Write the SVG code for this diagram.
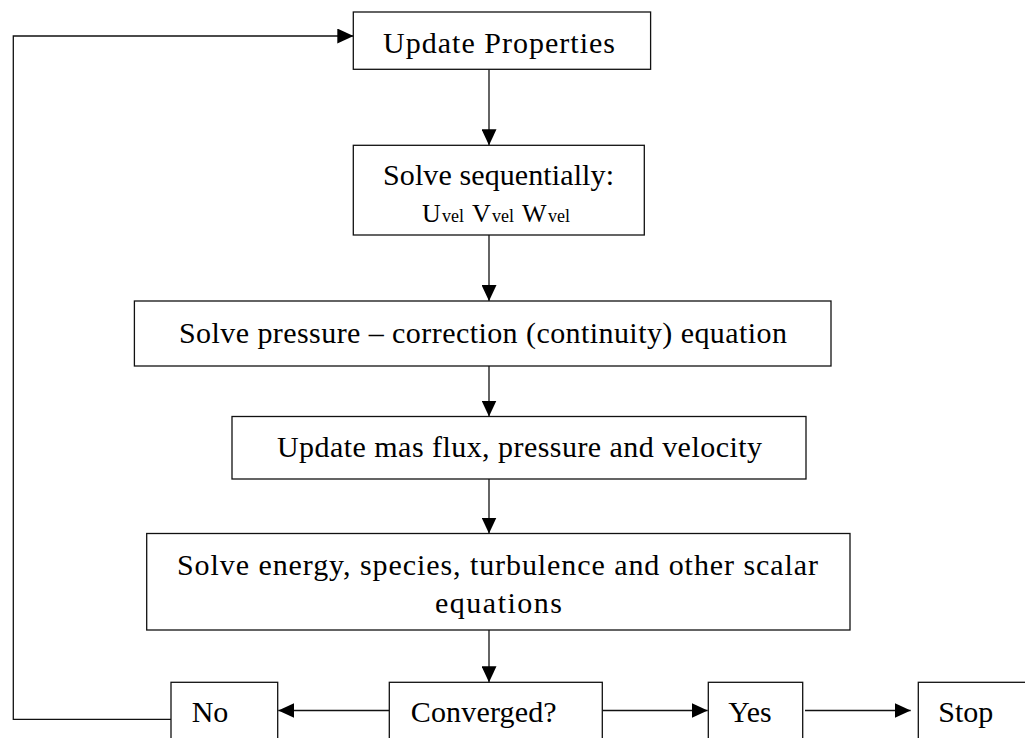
<svg xmlns="http://www.w3.org/2000/svg" width="1025" height="738" viewBox="0 0 1025 738">
<defs>
<marker id="arr" markerUnits="userSpaceOnUse" markerWidth="16" markerHeight="15" refX="16" refY="7.5" orient="auto">
<path d="M0,0 L16,7.5 L0,15 Z" fill="#000"/>
</marker>
<style>
.box{fill:#fff;stroke:#111;stroke-width:1.3}
.lbl{font-family:"Liberation Serif","DejaVu Serif",serif;font-size:30px;fill:#000}
.cap{font-family:"Liberation Serif","DejaVu Serif",serif;font-size:26px;fill:#000}
.sub{font-family:"Liberation Serif","DejaVu Serif",serif;font-size:18px;fill:#000}
.con{fill:none;stroke:#111;stroke-width:1.3;marker-end:url(#arr)}
</style>
</defs>
<rect width="1025" height="738" fill="#fff"/>
<g id="connectors">
<path class="con" d="M171,719.3 H13.3 V36 H353.3"/>
<path class="con" d="M489,69.3 V145.3"/>
<path class="con" d="M489,235 V301"/>
<path class="con" d="M489,366 V416.5"/>
<path class="con" d="M489,479 V533.5"/>
<path class="con" d="M489,630 V682.3"/>
<path class="con" d="M389.3,710.5 H278.3"/>
<path class="con" d="M602.3,710.5 H707.7"/>
<path class="con" d="M805,710.5 H910.7"/>
</g>
<g id="update-properties">
<rect class="box" x="353.3" y="12" width="297.3" height="57.3"/>
<text class="lbl" x="383" y="53" textLength="232" lengthAdjust="spacing">Update Properties</text>
</g>
<g id="solve-sequentially">
<rect class="box" x="353.3" y="145.3" width="291" height="89.7"/>
<text class="lbl" x="383" y="185" textLength="231" lengthAdjust="spacing">Solve sequentially:</text>
<text y="222"><tspan class="cap" x="422">U</tspan><tspan class="sub" x="442">vel</tspan><tspan class="cap" x="472">V</tspan><tspan class="sub" x="492">vel</tspan><tspan class="cap" x="522">W</tspan><tspan class="sub" x="548">vel</tspan></text>
</g>
<g id="solve-pressure">
<rect class="box" x="134.4" y="301" width="696.6" height="65"/>
<text class="lbl" x="179" y="343" textLength="608" lengthAdjust="spacing">Solve pressure – correction (continuity) equation</text>
</g>
<g id="update-mass-flux">
<rect class="box" x="232" y="416.5" width="574" height="62.5"/>
<text class="lbl" x="277" y="457" textLength="485" lengthAdjust="spacing">Update mas flux, pressure and velocity</text>
</g>
<g id="solve-energy">
<rect class="box" x="146.7" y="533.5" width="703.3" height="96.5"/>
<text class="lbl" x="177" y="575" textLength="641" lengthAdjust="spacing">Solve energy, species, turbulence and other scalar</text>
<text class="lbl" x="435" y="613" textLength="127" lengthAdjust="spacing">equations</text>
</g>
<g id="no">
<rect class="box" x="171" y="682.3" width="106.7" height="80"/>
<text class="lbl" x="191.7" y="722">No</text>
</g>
<g id="converged">
<rect class="box" x="389.3" y="682.3" width="213" height="80"/>
<text class="lbl" x="410.7" y="722" textLength="146" lengthAdjust="spacing">Converged?</text>
</g>
<g id="yes">
<rect class="box" x="708.3" y="682.3" width="94.4" height="80"/>
<text class="lbl" x="728.3" y="722" textLength="43.4" lengthAdjust="spacingAndGlyphs">Yes</text>
</g>
<g id="stop">
<rect class="box" x="918.3" y="682.3" width="120" height="80"/>
<text class="lbl" x="938.3" y="722">Stop</text>
</g>
</svg>
